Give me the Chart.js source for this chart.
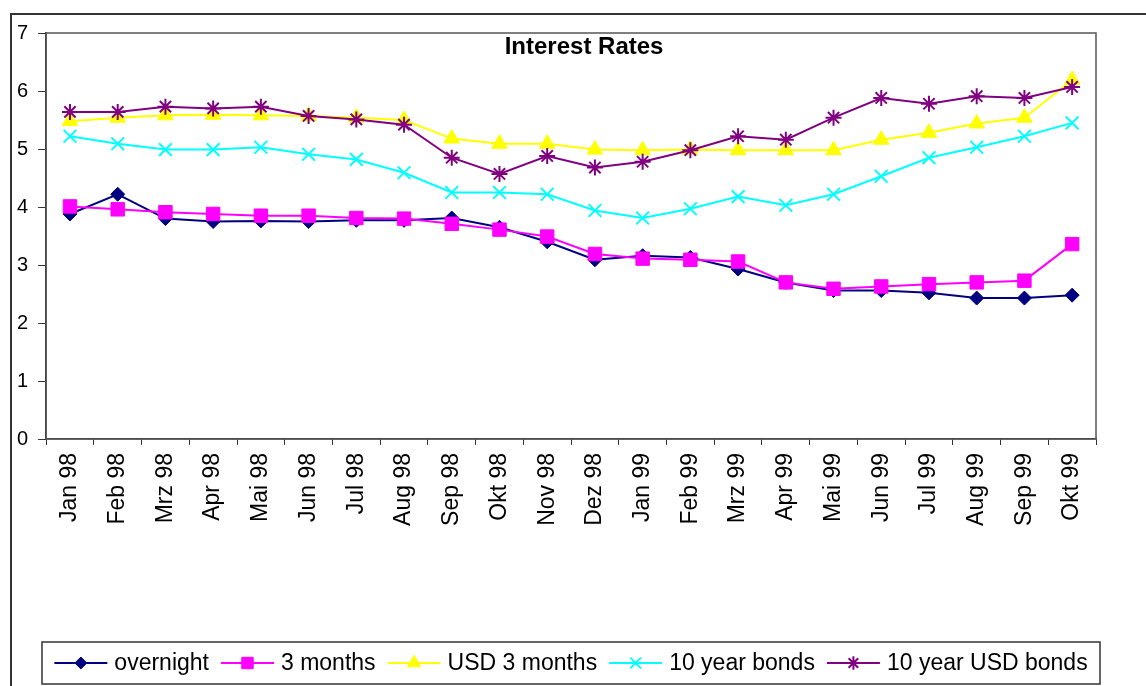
<!DOCTYPE html>
<html>
<head>
<meta charset="utf-8">
<title>Interest Rates</title>
<script src="https://cdn.jsdelivr.net/npm/chart.js@4.4.1/dist/chart.umd.min.js"></script>
<style>
    html, body { margin: 0; padding: 0; background: #fff; }
    #wrap { position: relative; width: 1146px; height: 686px; }
</style>
</head>
<body>
<div id="wrap"><canvas id="rates" width="1146" height="686"></canvas></div>
<script>
var months = ['Jan 98','Feb 98','Mrz 98','Apr 98','Mai 98','Jun 98','Jul 98','Aug 98','Sep 98','Okt 98','Nov 98','Dez 98',
              'Jan 99','Feb 99','Mrz 99','Apr 99','Mai 99','Jun 99','Jul 99','Aug 99','Sep 99','Okt 99'];

var overnight  = [3.88, 4.22, 3.80, 3.75, 3.76, 3.75, 3.77, 3.77, 3.81, 3.65, 3.40, 3.09, 3.16, 3.13, 2.93, 2.70, 2.56, 2.56, 2.52, 2.43, 2.43, 2.48];
var threeMonth = [4.01, 3.96, 3.91, 3.88, 3.85, 3.85, 3.81, 3.80, 3.71, 3.61, 3.49, 3.19, 3.11, 3.09, 3.06, 2.70, 2.59, 2.63, 2.67, 2.70, 2.73, 3.36];
var usd3Month  = [5.48, 5.54, 5.58, 5.59, 5.58, 5.57, 5.54, 5.50, 5.18, 5.09, 5.09, 4.99, 4.98, 4.99, 4.98, 4.98, 4.98, 5.16, 5.28, 5.44, 5.54, 6.19];
var bonds10    = [5.22, 5.09, 4.99, 4.99, 5.03, 4.91, 4.82, 4.59, 4.25, 4.25, 4.22, 3.94, 3.81, 3.97, 4.18, 4.03, 4.22, 4.53, 4.85, 5.03, 5.22, 5.45];
var usdBonds10 = [5.64, 5.64, 5.73, 5.70, 5.73, 5.57, 5.51, 5.42, 4.85, 4.57, 4.88, 4.68, 4.78, 4.98, 5.22, 5.16, 5.54, 5.88, 5.78, 5.91, 5.88, 6.07];

var yTicks = [0, 1, 2, 3, 4, 5, 6, 7];
var chartTitle = 'Interest Rates';

var FONT = 'Arial, "Liberation Sans", sans-serif';

function series(label, data, color, style, radius, order) {
    return {
        label: label,
        data: data,
        borderColor: color,
        backgroundColor: color,
        borderWidth: 2,
        pointStyle: style,
        pointRadius: radius,
        pointBorderColor: color,
        pointBackgroundColor: color,
        pointBorderWidth: (style === 'crossRot' || style === 'star') ? 2 : 1,
        tension: 0,
        fill: false,
        order: order
    };
}

// frame round the whole chart, box round the plot, title inside the plot
var framePlugin = {
    id: 'frame',
    beforeDraw: function(chart) {
        var ctx = chart.ctx;
        ctx.save();
        ctx.fillStyle = '#fff';
        ctx.fillRect(0, 0, chart.width, chart.height);
        ctx.strokeStyle = '#333';
        ctx.lineWidth = 2;
        ctx.beginPath();
        ctx.moveTo(11, chart.height);
        ctx.lineTo(11, 14);
        ctx.lineTo(chart.width, 14);
        ctx.stroke();
        ctx.restore();
    },
    afterDraw: function(chart) {
        var ctx = chart.ctx;
        var a = chart.chartArea;
        ctx.save();
        ctx.strokeStyle = '#555';
        ctx.lineWidth = 1.5;
        ctx.strokeRect(a.left, a.top, a.right - a.left, a.bottom - a.top);

        ctx.fillStyle = '#000';
        ctx.font = 'bold 24px ' + FONT;
        ctx.textAlign = 'center';
        ctx.textBaseline = 'middle';
        ctx.fillText(chartTitle, (a.left + a.right) / 2 + 13, a.top + 14);
        ctx.restore();
    }
};

// Excel style legend: line with marker, inside a box
var legendPlugin = {
    id: 'boxLegend',
    afterDraw: function(chart) {
        var ctx = chart.ctx;
        var box = {left: 42, top: 642, right: 1100, bottom: 684};
        var lineLen = 53, textGap = 7, itemGap = 12;
        var sets = chart.data.datasets;

        ctx.save();
        ctx.strokeStyle = '#333';
        ctx.lineWidth = 1.5;
        ctx.strokeRect(box.left, box.top, box.right - box.left, box.bottom - box.top);

        ctx.font = '23px ' + FONT;
        let widths = sets.map(ds => ctx.measureText(ds.label).width);
        let total = widths.reduce((acc, w) => acc + lineLen + textGap + w, 0) + itemGap * (sets.length - 1);
        let x = (box.left + box.right) / 2 - total / 2;
        let y = (box.top + box.bottom) / 2;

        sets.forEach((ds, i) => {
            ctx.strokeStyle = ds.borderColor;
            ctx.lineWidth = 2;
            ctx.beginPath();
            ctx.moveTo(x, y);
            ctx.lineTo(x + lineLen, y);
            ctx.stroke();

            ctx.fillStyle = ds.pointBackgroundColor;
            ctx.strokeStyle = ds.pointBorderColor;
            ctx.lineWidth = ds.pointBorderWidth;
            Chart.helpers.drawPoint(ctx, {
                pointStyle: ds.pointStyle,
                radius: ds.pointRadius * 0.85,
                rotation: 0,
                borderWidth: ds.pointBorderWidth
            }, x + lineLen / 2, y);

            ctx.fillStyle = '#000';
            ctx.textAlign = 'left';
            ctx.textBaseline = 'middle';
            ctx.fillText(ds.label, x + lineLen + textGap, y + 1);
            x += lineLen + textGap + widths[i] + itemGap;
        });
        ctx.restore();
    }
};

function rateChart() {
    let ctx = document.getElementById('rates').getContext('2d');

    new Chart(ctx, {
        type: 'line',
        data: {
            labels: months,
            datasets: [
                series('overnight', overnight, '#000080', 'rectRot', 7, 5),
                series('3 months', threeMonth, '#FF00FF', 'rect', 9.5, 4),
                series('USD 3 months', usd3Month, '#FFFF00', 'triangle', 9, 3),
                series('10 year bonds', bonds10, '#00FFFF', 'crossRot', 9, 2),
                series('10 year USD bonds', usdBonds10, '#800080', 'star', 8, 1)
            ]
        },
        options: {
            responsive: false,
            animation: false,
            devicePixelRatio: 1,
            layout: {
                padding: {top: 33, left: 7, right: 50, bottom: 0}
            },
            plugins: {
                legend: {display: false},
                title: {display: false},
                tooltip: {enabled: false}
            },
            scales: {
                x: {
                    offset: true,
                    grid: {
                        offset: true,
                        drawOnChartArea: false,
                        drawTicks: true,
                        tickLength: 6,
                        color: '#333'
                    },
                    border: {color: '#333', width: 1.5},
                    ticks: {
                        autoSkip: false,
                        minRotation: 90,
                        maxRotation: 90,
                        padding: 8,
                        color: '#000',
                        font: {size: 23, family: FONT}
                    },
                    afterFit: function(scale) {
                        scale.height = 247;
                    }
                },
                y: {
                    min: 0,
                    max: 7,
                    afterBuildTicks: function(scale) {
                        scale.ticks = yTicks.map(v => ({value: v}));
                    },
                    grid: {
                        drawOnChartArea: false,
                        drawTicks: true,
                        tickLength: 8,
                        color: '#333'
                    },
                    border: {color: '#333', width: 1.5},
                    ticks: {
                        padding: 10,
                        color: '#000',
                        font: {size: 20, family: FONT}
                    }
                }
            }
        },
        plugins: [framePlugin, legendPlugin]
    });
}

rateChart();
</script>
</body>
</html>
